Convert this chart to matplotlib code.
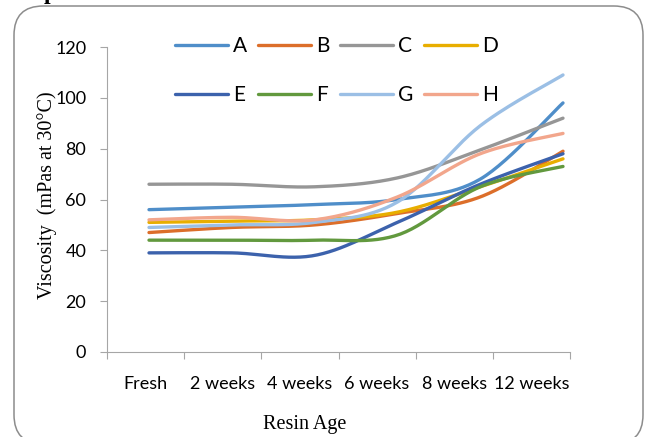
import numpy as np
import matplotlib
matplotlib.use("Agg")
import matplotlib.pyplot as plt
from matplotlib.patches import FancyBboxPatch

categories = ["Fresh", "2 weeks", "4 weeks", "6 weeks", "8 weeks", "12 weeks"]
series_names = ["A", "B", "C", "D", "E", "F", "G", "H"]
A = [56, 57, 58, 60, 68, 98]
B = [47, 49, 50, 54.5, 61, 79]
C = [66, 66, 65, 68.5, 79.5, 92]
D = [51, 51.5, 52, 55, 65, 76]
E = [39, 39, 38, 51, 66, 78]
F = [44, 44, 44, 46, 65, 73]
G = [49, 50, 51, 59, 89, 109]
H = [52, 53, 52, 61, 78, 86]
series_values = [A, B, C, D, E, F, G, H]
colors = ['#4F8EC9', '#DC6E2A', '#969696', '#E8AE00',
          '#3C62AC', '#62993E', '#9BBFE5', '#F2A68C']

W, Hh = 649, 437
fig = plt.figure(figsize=(W / 100, Hh / 100), dpi=100)

def fx(px):
    return px / W

def fy(py):
    return 1 - py / Hh

# rounded frame
frame = FancyBboxPatch((fx(14), fy(444)), fx(643) - fx(14), fy(6) - fy(444),
                       boxstyle="round,pad=0,rounding_size=0.045",
                       transform=fig.transFigure, fill=False,
                       edgecolor='#8C8C8C', linewidth=1.1,
                       mutation_aspect=W / Hh)
fig.patches.append(frame)

# cut-off heading letter
fig.text(fx(44), fy(-1), "p", fontsize=17, fontweight='bold',
         family='Liberation Serif', va='baseline', ha='left')

ax_l, ax_r, ax_t, ax_b = 107, 570, 47, 352
ax = fig.add_axes([fx(ax_l), fy(ax_b), fx(ax_r) - fx(ax_l), fy(ax_t) - fy(ax_b)])
ax.set_ylim(0, 120)
ax.set_yticks(np.arange(0, 121, 20))
ax.set_xlim(0, len(categories))
ax.set_xticks(np.arange(0, len(categories) + 1))
ax.set_xticklabels([])
ax.set_xticks(np.arange(len(categories)) + 0.5, minor=True)
ax.set_xticklabels(categories, minor=True)
ax.tick_params(axis='x', which='minor', length=0, pad=17, labelsize=13)
ax.tick_params(axis='x', which='major', length=5, width=0.8, color='#A6A6A6', direction='out')
ax.tick_params(axis='y', length=5, width=0.8, color='#A6A6A6', pad=10, labelsize=13)
for lbl in ax.get_xticklabels(minor=True) + ax.get_yticklabels():
    lbl.set_family('Lato')
for s in ['top', 'right']:
    ax.spines[s].set_visible(False)
for s in ['left', 'bottom']:
    ax.spines[s].set_color('#A6A6A6')
    ax.spines[s].set_linewidth(0.8)
ax.patch.set_alpha(0)

# secondary x-axis for the series (points offset as in the reference)
ax2 = ax.twiny()
first_px, step_px = 149, 82.8
lo = (ax_l - first_px) / step_px
hi = (ax_r - first_px) / step_px
ax2.set_xlim(lo, hi)
ax2.set_ylim(0, 120)
ax2.axis('off')

def smooth(xs, ys, n=30):
    P = np.column_stack([xs, ys]).astype(float)
    Pp = np.vstack([P[0], P, P[-1]])
    out = []
    for i in range(len(P) - 1):
        p0, p1, p2, p3 = Pp[i], Pp[i + 1], Pp[i + 2], Pp[i + 3]
        c1 = p1 + (p2 - p0) / 6
        c2 = p2 - (p3 - p1) / 6
        t = np.linspace(0, 1, n)[:, None]
        seg = ((1 - t) ** 3) * p1 + 3 * ((1 - t) ** 2) * t * c1 + 3 * (1 - t) * t ** 2 * c2 + t ** 3 * p2
        out.append(seg if i == 0 else seg[1:])
    S = np.vstack(out)
    return S[:, 0], S[:, 1]

handles = []
xi = np.arange(len(categories))
for name, vals, col in zip(series_names, series_values, colors):
    sx, sy = smooth(xi, vals)
    h, = ax2.plot(sx, sy, color=col, linewidth=2.4, solid_capstyle='round', label=name)
    handles.append(h)

order = [0, 4, 1, 5, 2, 6, 3, 7]
leg = ax2.legend([handles[i] for i in order], [series_names[i] for i in order],
                 ncol=4, loc='upper left', bbox_to_anchor=(fx(175), fy(36)),
                 bbox_transform=fig.transFigure, frameon=False,
                 prop={'family': 'Lato', 'size': 15},
                 handlelength=2.55, handletextpad=0.25, columnspacing=0.5,
                 labelspacing=1.4, borderpad=0, borderaxespad=0)

fig.text(fx(47), fy(195), "Viscosity  (mPas at 30°C)", rotation=90,
         family='Liberation Serif', fontsize=14.5, ha='center', va='center')
fig.text(fx(305), fy(425), "Resin Age", family='Liberation Serif',
         fontsize=14.5, ha='center', va='center')

fig.savefig("out.png", dpi=100)
